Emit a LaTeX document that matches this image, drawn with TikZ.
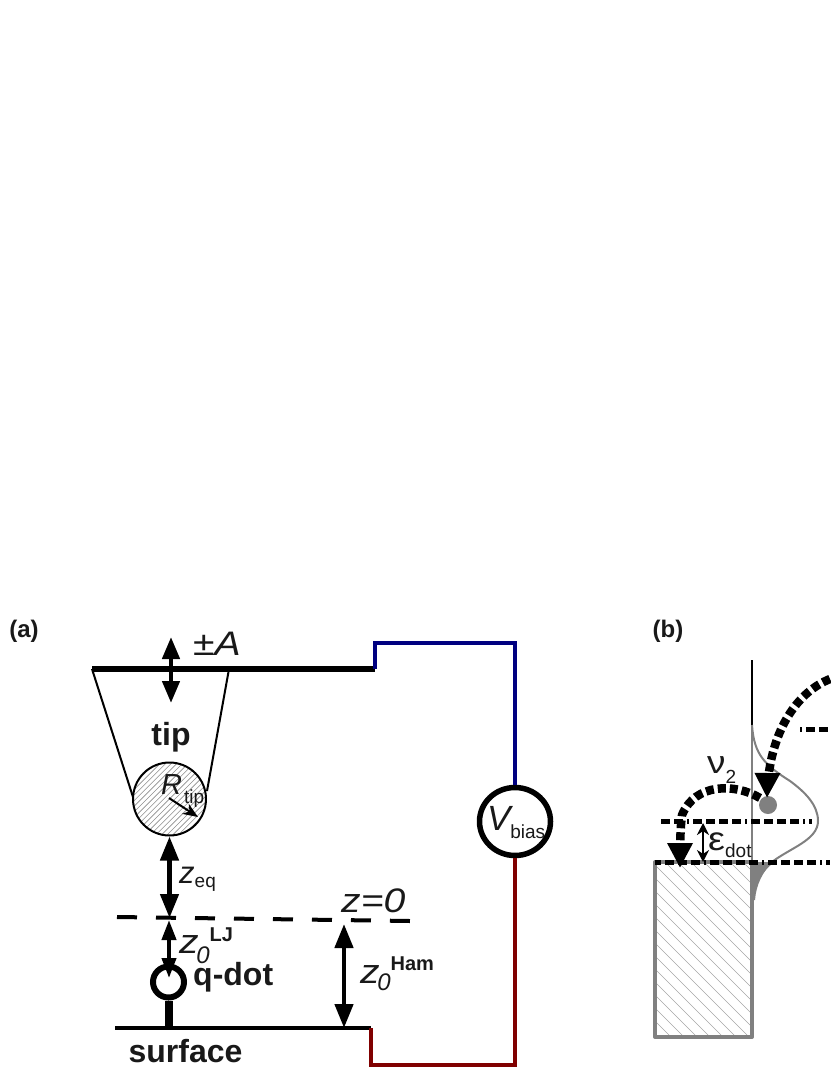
\documentclass[tikz,border=0pt]{standalone}
\usepackage{fontspec}
\setmainfont{Liberation Sans}
\usepackage{xcolor}
\usetikzlibrary{shapes.geometric,arrows.meta,bending,positioning,calc}

\definecolor{wireblue}{RGB}{0,0,128}
\definecolor{wirered}{RGB}{128,0,0}
\definecolor{inkgrey}{RGB}{128,128,128}
\newcommand{\fs}[1]{\fontsize{#1}{#1}\selectfont}
\newcommand{\widen}[1]{\scalebox{1.15}[1]{#1}}
\newcommand{\lowtext}[2]{\raisebox{-#1pt}{\fs{19}#2}}
\newcommand{\zsub}[3]{\widen{\textit{z}}\kern-2.5pt\raisebox{-#1pt}{\fs{24}\itshape 0}\raisebox{#2pt}{\fs{20}\bfseries #3}}

\begin{document}
\begin{tikzpicture}[
    x=1pt, y=-1pt,
    lbl/.style={inner sep=0pt, anchor=base west, text=black!90, font=\fs{34}},
    boldlbl/.style={inner sep=0pt, anchor=base, text=black!90, font=\fs{32}\bfseries},
    panel/.style={inner sep=0pt, text=black!90, font=\fs{24}\bfseries},
    thinline/.style={line width=2pt},
    plate/.style={line width=4pt},
    arrow/.style={{Triangle[length=24pt,width=18pt]}-{Triangle[length=24pt,width=18pt]}, line width=4.5pt},
    smallarrow/.style={{Stealth[length=12pt,width=12pt]}-{Stealth[length=12pt,width=12pt]}, line width=2pt},
    hop/.style={-{Triangle[length=25pt,width=24pt,flex=0]}, line width=8.5pt, dash pattern=on 8pt off 4pt, black},
    level/.style={line width=5pt, dash pattern=on 9pt off 4pt on 9pt off 4pt on 9pt off 4pt on 9pt off 4pt on 2pt off 4pt},
    gauss/.style={line width=2pt, inkgrey},
    hatch1/.style={line width=0.6pt, black!45},
    hatch2/.style={line width=0.6pt, black!35},
    wire1/.style={line width=4pt, wireblue},
    wire2/.style={line width=4pt, wirered}
]
    \useasboundingbox (0,0) rectangle (830,1075);

    % panel (a)
    \node [panel] (labela) at (24,631) {(a)};
    \coordinate (barl) at (92,669);
    \coordinate (barr) at (375,669);
    \coordinate (barm) at (229,669);
    \coordinate (sideL) at (133,797);
    \coordinate (sideR) at (207,791);
    \draw [thinline] (barl) -- (sideL);
    \draw [thinline] (barm) -- (sideR);
    \begin{scope}
        \clip (169.5,799) circle (37);
        \foreach \d in {0,5.6,...,170}
            \draw [hatch1] (50+\d,840) -- (50+\d+90,750);
    \end{scope}
    \node [circle, draw, thinline, minimum size=73pt, inner sep=0pt] (sphere) at (169.5,799) {};
    \draw [line width=6pt] (barl) -- (barr);

    \coordinate (ampT) at (171,637);
    \coordinate (ampB) at (171,703);
    \draw [{Triangle[length=22pt,width=17pt]}-{Triangle[length=22pt,width=17pt]}, line width=4.5pt] (ampT) -- (ampB);
    \node [lbl] (amp) at (193,655) {\widen{±\textit{A}}};
    \node [boldlbl] (tip) at (171,745) {tip};
    \node [lbl, font=\fs{29}] (rtip) at (161,794) {\textit{R}\kern2pt\lowtext{9}{tip}};
    \coordinate (rS) at (169,798);
    \coordinate (rE) at (198,817);
    \draw [-{Stealth[length=15pt,width=12pt]}, line width=2pt] (rS) -- (rE);

    \coordinate (zeroL) at (117,917);
    \coordinate (zeroR) at (410,921);
    \draw [line width=4pt, dash pattern=on 20pt off 19pt] (zeroL) -- (zeroR);
    \node [lbl] (zzero) at (341,912) {\widen{\textit{z=0}}};

    \node [circle, draw, line width=6pt, minimum size=31pt, inner sep=0pt] (qdot) at (168.5,982) {};
    \node [boldlbl, anchor=base west] (qlabel) at (193,985) {q-dot};
    \coordinate (surfL) at (115,1028);
    \coordinate (surfR) at (371,1028);
    \draw [line width=4pt] (surfL) -- (surfR);
    \coordinate (stem) at (168.5,1028);
    \draw [line width=8pt] (qdot.south) -- (stem);
    \node [boldlbl] (surface) at (185.5,1062) {surface};

    \coordinate (eqB) at (169.5,918);
    \draw [arrow] (sphere.south) -- (eqB);
    \node [lbl, font=\fs{31}] (zeq) at (179,883) {\textit{z}\lowtext{4}{eq}};
    \coordinate (ljT) at (169,920);
    \coordinate (ljB) at (169,978);
    \draw [{Triangle[length=20pt,width=14pt]}-{Triangle[length=20pt,width=14pt]}, line width=4pt] (ljT) -- (ljB);
    \node [lbl] (zlj) at (179,953) {\zsub{10}{12}{LJ}};
    \coordinate (hamT) at (344,924);
    \coordinate (hamB) at (344,1028);
    \draw [arrow] (hamT) -- (hamB);
    \node [lbl] (zham) at (360,983) {\zsub{7}{13}{Ham}};

    \node [ellipse, draw, line width=5.5pt, minimum width=71pt, minimum height=68pt, inner sep=0pt, fill=white] (vbias) at (515,821.5) {};
    \node [lbl, font=\fs{35}] (vlabel) at (487,830) {\textit{V}\kern-3pt\lowtext{8}{bias}};
    \coordinate (w1) at (375,643);
    \coordinate (w2) at (515,643);
    \draw [wire1] (barr) -- (w1) -- (w2) -- (vbias.north);
    \coordinate (w3) at (515,1065);
    \coordinate (w4) at (371,1065);
    \draw [wire2] (vbias.south) -- (w3) -- (w4) -- (surfR);

    % panel (b)
    \node [panel] (labelb) at (668,631) {(b)};
    \coordinate (blockA) at (655,862);
    \coordinate (blockB) at (752,1037);
    \begin{scope}
        \clip (blockA) rectangle (blockB);
        \foreach \d in {0,13,...,280}
            \draw [hatch2] (470+\d,862) -- (470+\d+180,1042);
    \end{scope}
    \draw [inkgrey, plate, line join=round] (blockA) rectangle (blockB);
    \coordinate (axisT) at (752,660);
    \coordinate (axisM) at (752,725);
    \draw [gauss] (axisM) -- (blockB |- blockA);
    \draw [thinline, black] (axisT) -- (axisM);
    \fill [inkgrey] (752,862) -- (775,862) .. controls (762,870) and (755,885) .. (754,900) -- (752,900) -- cycle;
    \draw [gauss] (axisM) .. controls (754,755) and (765,765) .. (790,781) .. controls (805,792) and (818,805) .. (818,821) .. controls (818,840) and (790,848) .. (772,862) .. controls (762,870) and (755,885) .. (754,900);
    \node [circle, fill=inkgrey, minimum size=18pt, inner sep=0pt] (qlevel) at (768,805) {};

    \coordinate (lvl1L) at (660,821);
    \coordinate (lvl1R) at (812,821);
    \draw [level, dash phase=25pt] (lvl1L) -- (lvl1R);
    \coordinate (lvl2L) at (655,862);
    \coordinate (lvl2R) at (830,862);
    \draw [level, dash phase=3pt] (lvl2L) -- (lvl2R);
    \coordinate (lvl3L) at (800,729);
    \coordinate (lvl3R) at (830,729);
    \draw [level, dash phase=52pt] (lvl3L) -- (lvl3R);

    \coordinate (hopS) at (830,679);
    \coordinate (hopE) at (767,798);
    \draw [hop] (hopS) .. controls (795,693) and (768,735) .. (hopE);
    \coordinate (dropS) at (760,798);
    \coordinate (dropE) at (680,868);
    \draw [hop] (dropS) .. controls (735,783) and (695,783) .. (682,815) .. controls (680,830) and (680,850) .. (dropE);

    \node [lbl, font=\fs{32}] (nulabel) at (707,773) {\widen{ν}\lowtext{10}{2}};
    \coordinate (edotT) at (703,823);
    \coordinate (edotB) at (703,862);
    \draw [smallarrow] (edotT) -- (edotB);
    \node [lbl, font=\fs{33}] (edot) at (708,850) {\widen{ε}\lowtext{7}{dot}};
\end{tikzpicture}
\end{document}
